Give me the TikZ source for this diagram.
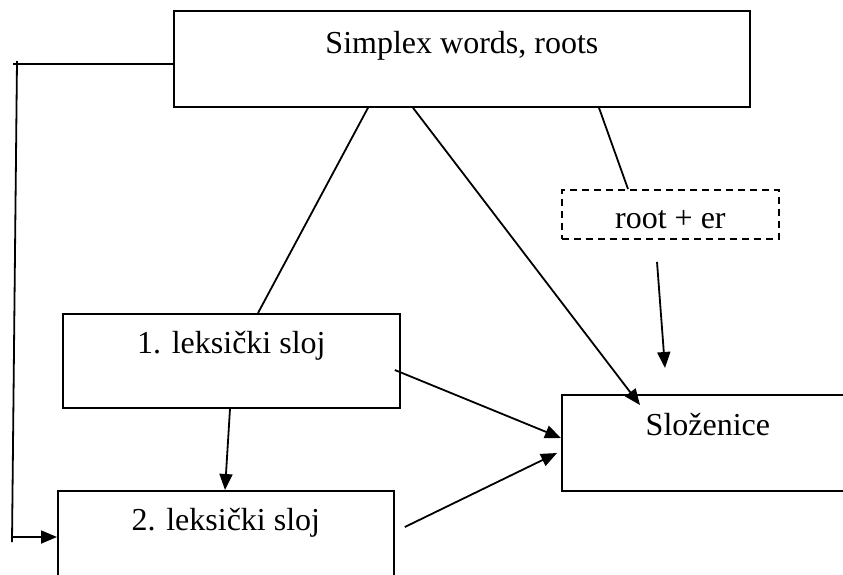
\documentclass[tikz,border=0pt]{standalone}
\usepackage{fontspec}
\setmainfont{Liberation Serif}
\usepackage{tikz}
\usetikzlibrary{arrows.meta}

\begin{document}
\begin{tikzpicture}[
x = 1pt, y = -1pt,
every node/.style = {draw, line width = 1.8pt, inner sep = 0pt, anchor = north west,
  font = \rmfamily\fontsize{32}{36}\selectfont},
  level/.style = {line width = 1.8pt},
  arr/.style = {level, -{Triangle[length = 16pt, width = 13pt]}}
]
\useasboundingbox (0,0) rectangle (843,574);
\clip (0,0) rectangle (843,574);
\node[minimum width = 576pt, text height = 43pt, text depth = 53pt] (simplex) at (173,10) {Simplex words, roots};
\node[dash pattern = on 7pt off 5pt, minimum width = 217pt, text height = 39pt, text depth = 10pt] (root) at (561,189) {root + er};
\node[minimum width = 337pt, text height = 40pt, text depth = 54pt] (lex1) at (62,313) {1. leksički sloj};
\node[minimum width = 336pt, text height = 40pt, text depth = 60pt] (lex2) at (57,490) {2. leksički sloj};
\node[minimum width = 292pt, text height = 41pt, text depth = 55pt] (slozenice) at (561,394) {Složenice};
% left loop
\coordinate (lt) at (17,61);
\coordinate (lb) at (12,542);
\coordinate (lbar) at (12,537);
\draw[level] ([yshift = -54pt]simplex.north west) -- (13,64);
\draw[level] (lt) -- (lb);
\draw[arr] (lbar) -- ([yshift = -47pt]lex2.north west);
% lines from the top box
\draw[level] ([xshift = 195pt]simplex.south west) -- ([xshift = 196pt]lex1.north west);
\draw[arr] ([xshift = 240pt]simplex.south west) -- ([xshift = 79pt, yshift = -11pt]slozenice.north west);
\draw[level] ([xshift = 426pt]simplex.south west) -- ([xshift = 67pt]root.north west);
\draw[arr] ([xshift = 96pt, yshift = -22pt]root.south west) -- ([xshift = 104pt, yshift = 26pt]slozenice.north west);
% into the compounds
\draw[arr] ([xshift = -6pt, yshift = -57pt]lex1.north east) -- ([yshift = -44pt]slozenice.north west);
\draw[arr] ([xshift = 168pt]lex1.south west) -- ([xshift = 168pt]lex2.north west);
\draw[arr] ([xshift = 10pt, yshift = -37pt]lex2.north east) -- ([xshift = -4pt, yshift = -59pt]slozenice.north west);
\end{tikzpicture}
\end{document}
